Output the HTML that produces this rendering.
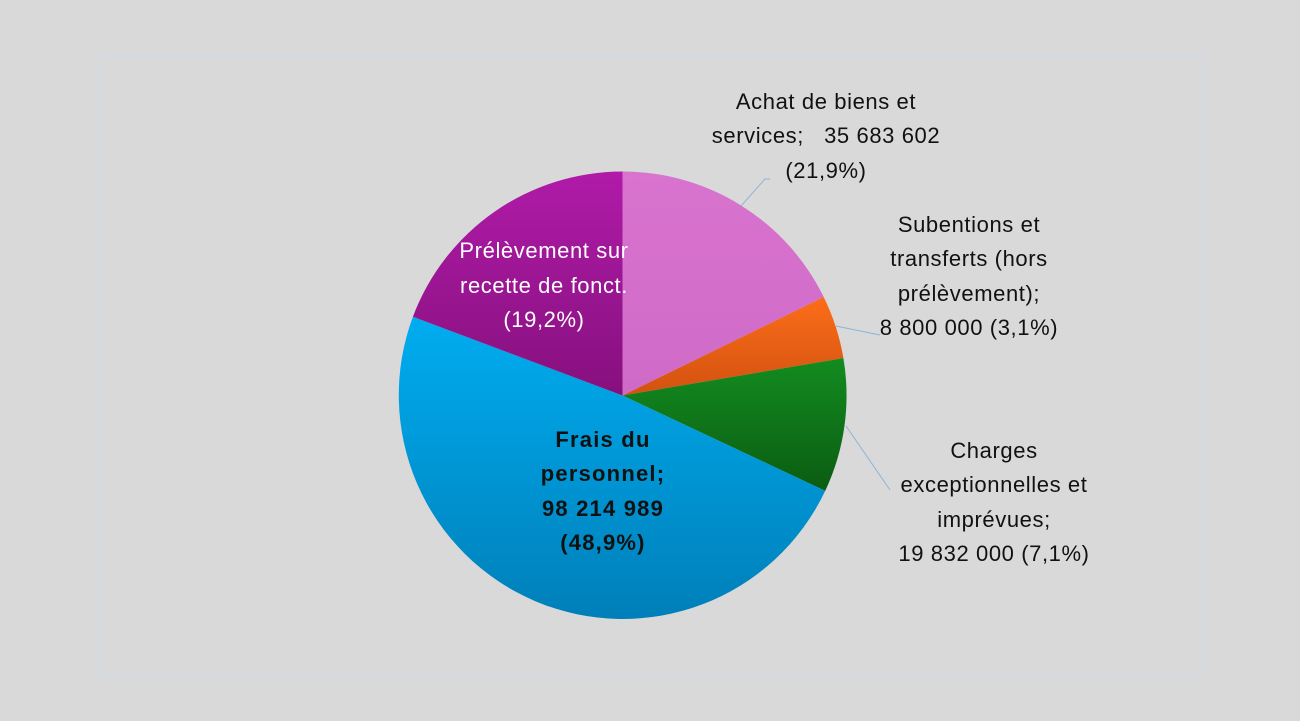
<!DOCTYPE html>
<html><head><style>
html,body{margin:0;padding:0;background:#d9d9d9;}
svg{display:block;}
text{font-family:"Liberation Sans",sans-serif;font-size:22px;fill:#111;letter-spacing:0.6px;white-space:pre;}
</style></head><body>
<svg width="1300" height="721" viewBox="0 0 1300 721">
<defs>
<linearGradient id="gp" x1="0" y1="0" x2="0" y2="1"><stop offset="0" stop-color="#d873ce"/><stop offset="1" stop-color="#d06ac8"/></linearGradient>
<linearGradient id="go" x1="0" y1="0" x2="0" y2="1"><stop offset="0" stop-color="#fc6d1a"/><stop offset="1" stop-color="#d2520f"/></linearGradient>
<linearGradient id="gg" x1="0" y1="0" x2="0" y2="1"><stop offset="0" stop-color="#138c20"/><stop offset="1" stop-color="#0b5c12"/></linearGradient>
<linearGradient id="gb" x1="0" y1="0" x2="0" y2="1"><stop offset="0" stop-color="#00adf0"/><stop offset="1" stop-color="#007fb9"/></linearGradient>
<linearGradient id="gu" x1="0" y1="0" x2="0" y2="1"><stop offset="0" stop-color="#b01ba8"/><stop offset="1" stop-color="#86107e"/></linearGradient>
</defs>
<rect x="99" y="55" width="1104" height="621" fill="none" stroke="#d3dae3" stroke-width="2"/>
<g>
<path d="M622.5 395.5 L622.5 171.5 A224 224 0 0 1 823.7 297 Z" fill="url(#gp)"/>
<path d="M622.5 395.5 L823.7 297 A224 224 0 0 1 843.4 358.1 Z" fill="url(#go)"/>
<path d="M622.5 395.5 L843.4 358.1 A224 224 0 0 1 825.2 490.9 Z" fill="url(#gg)"/>
<path d="M622.5 395.5 L825.2 490.9 A224 224 0 0 1 412.9 316.7 Z" fill="url(#gb)"/>
<path d="M622.5 395.5 L412.9 316.7 A224 224 0 0 1 622.5 171.5 Z" fill="url(#gu)"/>
</g>
<g stroke="#8fb3d9" stroke-width="1" fill="none">
<polyline points="741,206 765,179 770,179"/>
<polyline points="836,326 880,335"/>
<polyline points="846,426 890,490"/>
</g>
<g text-anchor="middle">
<text x="826" y="109">Achat de biens et</text>
<text x="826" y="143">services;   35 683 602</text>
<text x="826" y="178">(21,9%)</text>
<text x="969" y="232">Subentions et</text>
<text x="969" y="266">transferts (hors</text>
<text x="969" y="301">prélèvement);</text>
<text x="969" y="335">8 800 000 (3,1%)</text>
<text x="994" y="458">Charges</text>
<text x="994" y="492">exceptionnelles et</text>
<text x="994" y="527">imprévues;</text>
<text x="994" y="561">19 832 000 (7,1%)</text>
<text x="544" y="258" style="fill:#fff">Prélèvement sur</text>
<text x="544" y="293" style="fill:#fff">recette de fonct.</text>
<text x="544" y="327" style="fill:#fff">(19,2%)</text>
<text x="603" y="447" style="font-weight:bold;letter-spacing:1.2px">Frais du</text>
<text x="603" y="481" style="font-weight:bold;letter-spacing:1.2px">personnel;</text>
<text x="603" y="516" style="font-weight:bold;letter-spacing:1.2px">98 214 989</text>
<text x="603" y="550" style="font-weight:bold;letter-spacing:1.2px">(48,9%)</text>
</g>
</svg>
</body></html>
